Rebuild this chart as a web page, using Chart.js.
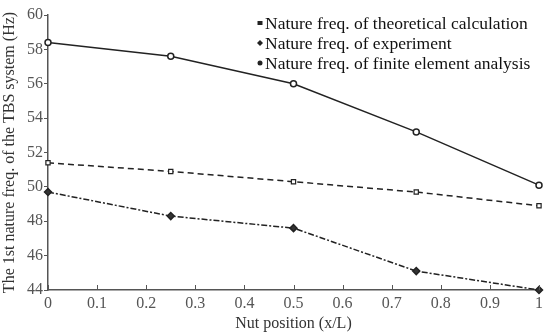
<!DOCTYPE html>
<html>
<head>
<meta charset="utf-8">
<script src="https://cdn.jsdelivr.net/npm/chart.js@4"></script>
<style>
  body { margin: 0; background: #fff; }
  #wrap { width: 550px; height: 333px; }
</style>
</head>
<body>
<div id="wrap"><canvas id="freqChart"></canvas></div>
<script>
const nutPositions = [0, 0.25, 0.5, 0.75, 1];
const theoretical = [51.4, 50.9, 50.3, 49.7, 48.9];
const experiment = [49.7, 48.3, 47.6, 45.1, 44.0];
const finiteElement = [58.4, 57.6, 56.0, 53.2, 50.1];
const seriesLabels = [
    'Nature freq. of theoretical calculation',
    'Nature freq. of experiment',
    'Nature freq. of finite element analysis'
];
const xTicks = [0, 0.1, 0.2, 0.3, 0.4, 0.5, 0.6, 0.7, 0.8, 0.9, 1];
const yTicks = [44, 46, 48, 50, 52, 54, 56, 58, 60];

const fontFamily = '"Liberation Serif", "DejaVu Serif", serif';

function toPoints(values) {
    return nutPositions.map((x, i) => ({ x: x, y: values[i] }));
}

// legend drawn inside the plot, top right
const innerLegend = {
    id: 'innerLegend',
    afterDraw(chart) {
        const ctx = chart.ctx;
        const x0 = 260;
        let y0 = 23;
        ctx.save();
        ctx.font = '17.5px ' + fontFamily;
        ctx.textBaseline = 'middle';
        chart.data.datasets.forEach((ds, i) => {
            ctx.fillStyle = '#222';
            ctx.beginPath();
            if (ds.pointStyle === 'rectRot') {
                ctx.moveTo(x0, y0 - 3); ctx.lineTo(x0 + 3, y0); ctx.lineTo(x0, y0 + 3); ctx.lineTo(x0 - 3, y0);
            } else if (ds.pointStyle === 'rect') {
                ctx.rect(x0 - 2.5, y0 - 2, 5, 4);
            } else {
                ctx.arc(x0, y0, 2.5, 0, Math.PI * 2);
            }
            ctx.fill();
            ctx.fillStyle = '#111';
            ctx.fillText(seriesLabels[i], x0 + 5, y0 + 1);
            y0 += 20;
        });
        ctx.restore();
    }
};

// inward tick marks on the x axis
const inwardTicks = {
    id: 'inwardTicks',
    afterDraw(chart) {
        const ctx = chart.ctx;
        const xs = chart.scales.x;
        const bottom = chart.chartArea.bottom;
        ctx.save();
        ctx.strokeStyle = '#555';
        ctx.lineWidth = 1;
        xTicks.forEach(v => {
            const px = Math.round(xs.getPixelForValue(v)) + 0.5;
            ctx.beginPath();
            ctx.moveTo(px, bottom);
            ctx.lineTo(px, bottom - 5);
            ctx.stroke();
        });
        ctx.restore();
    }
};

const ctx = document.getElementById('freqChart').getContext('2d');
new Chart(ctx, {
    type: 'line',
    data: {
        datasets: [{
            label: seriesLabels[0],
            data: toPoints(theoretical),
            borderColor: '#222',
            borderWidth: 1.5,
            borderDash: [6, 4],
            pointStyle: 'rect',
            pointRadius: 3,
            pointBackgroundColor: '#fff',
            pointBorderColor: '#222',
            pointBorderWidth: 1.2,
            tension: 0
        }, {
            label: seriesLabels[1],
            data: toPoints(experiment),
            borderColor: '#222',
            borderWidth: 1.5,
            borderDash: [6, 2, 2, 2],
            pointStyle: 'rectRot',
            pointRadius: 3.5,
            pointBackgroundColor: '#333',
            pointBorderColor: '#222',
            tension: 0
        }, {
            label: seriesLabels[2],
            data: toPoints(finiteElement),
            borderColor: '#222',
            borderWidth: 1.5,
            pointStyle: 'circle',
            pointRadius: 3,
            pointBackgroundColor: '#fff',
            pointBorderColor: '#222',
            pointBorderWidth: 1.5,
            tension: 0
        }]
    },
    options: {
        responsive: true,
        maintainAspectRatio: false,
        animation: false,
        clip: false,
        layout: { padding: { top: 15, right: 11, left: 0, bottom: 0 } },
        plugins: {
            legend: { display: false },
            tooltip: { enabled: false }
        },
        scales: {
            x: {
                type: 'linear',
                min: 0,
                max: 1,
                afterBuildTicks: axis => { axis.ticks = xTicks.map(v => ({ value: v })); },
                afterFit: axis => { axis.height = 43; },
                ticks: {
                    color: '#555',
                    font: { family: fontFamily, size: 16 },
                    padding: 4,
                    maxRotation: 0,
                    callback: v => String(v)
                },
                grid: { drawOnChartArea: false, drawTicks: false },
                border: { color: '#555', width: 1.5 },
                title: {
                    display: true,
                    text: 'Nut position (x/L)',
                    color: '#333',
                    font: { family: fontFamily, size: 16 },
                    padding: { top: 0, bottom: 0 }
                }
            },
            y: {
                min: 44,
                max: 60,
                afterBuildTicks: axis => { axis.ticks = yTicks.map(v => ({ value: v })); },
                afterFit: axis => { axis.width = 48; },
                ticks: {
                    color: '#555',
                    font: { family: fontFamily, size: 16 },
                    padding: 1
                },
                grid: { drawOnChartArea: false, drawTicks: true, tickLength: 4, color: '#555' },
                border: { color: '#555', width: 1.5 },
                title: {
                    display: true,
                    text: 'The 1st nature freq. of the TBS system (Hz)',
                    color: '#333',
                    font: { family: fontFamily, size: 16 },
                    padding: { top: 0, bottom: 0 }
                }
            }
        }
    },
    plugins: [innerLegend, inwardTicks]
});
</script>
</body>
</html>
